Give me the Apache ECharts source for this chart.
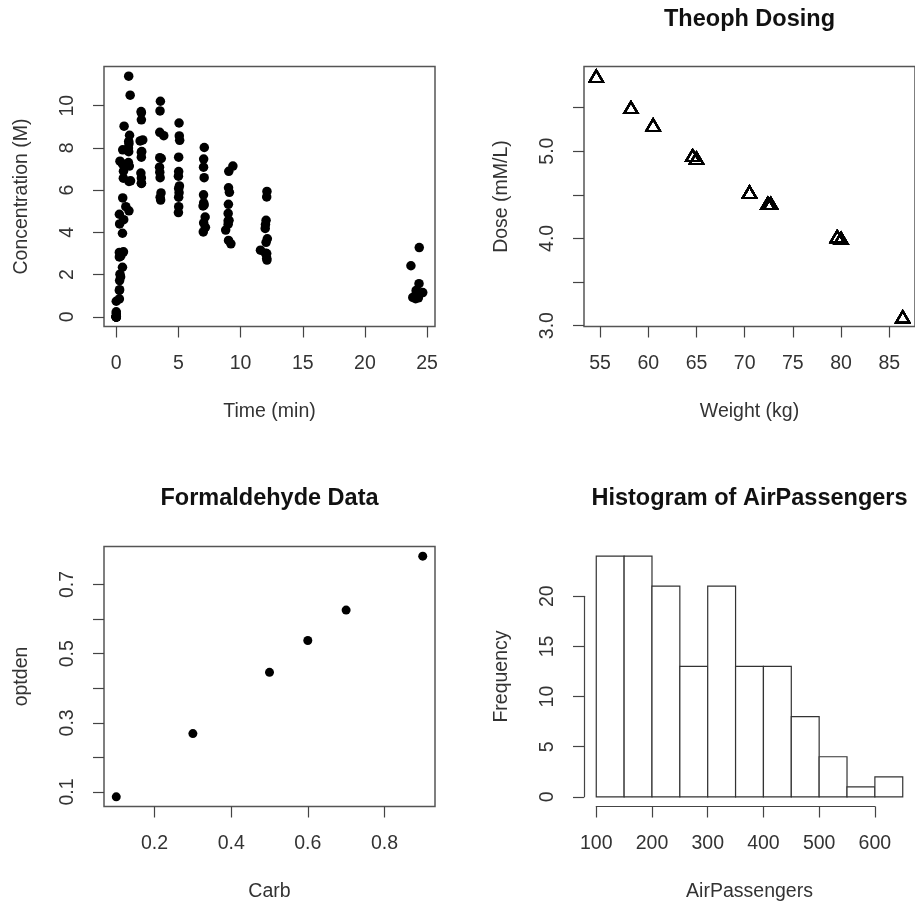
<!DOCTYPE html>
<html>
<head>
<meta charset="utf-8">
<script src="https://cdn.jsdelivr.net/npm/echarts@6/dist/echarts.min.js"></script>
<style>
  html, body { margin: 0; padding: 0; background: #fff; }
  #main { width: 915px; height: 907px; }
</style>
</head>
<body>
<div id="main"></div>
<script>
// Theoph: one entry per subject, 11 samples each
const subjWt = [79.6, 72.4, 70.5, 72.7, 54.6, 80.0, 64.6, 70.5, 86.4, 58.2, 65.0, 60.5];
const subjDose = [4.02, 4.40, 4.53, 4.40, 5.86, 4.00, 4.95, 4.53, 3.10, 5.50, 4.92, 5.30];
const subjTime = [
  [0, 0.25, 0.57, 1.12, 2.02, 3.82, 5.10, 7.03, 9.05, 12.12, 24.37],
  [0, 0.27, 0.52, 1.00, 1.92, 3.50, 5.02, 7.03, 9.00, 12.00, 24.30],
  [0, 0.27, 0.58, 1.02, 2.02, 3.62, 5.08, 7.07, 9.00, 12.15, 24.17],
  [0, 0.35, 0.60, 1.07, 2.13, 3.50, 5.02, 7.02, 9.02, 11.98, 24.65],
  [0, 0.30, 0.52, 1.00, 2.02, 3.50, 5.02, 7.02, 9.10, 12.00, 24.35],
  [0, 0.27, 0.58, 1.15, 2.03, 3.57, 5.00, 7.00, 9.22, 12.10, 23.85],
  [0, 0.25, 0.50, 1.02, 2.02, 3.48, 5.00, 6.98, 9.00, 12.05, 24.22],
  [0, 0.25, 0.52, 0.98, 2.02, 3.53, 5.05, 7.15, 9.07, 12.10, 24.12],
  [0, 0.30, 0.63, 1.05, 2.02, 3.53, 5.02, 7.17, 8.80, 11.60, 24.43],
  [0, 0.37, 0.77, 1.02, 2.05, 3.55, 5.05, 7.08, 9.38, 12.10, 23.70],
  [0, 0.25, 0.50, 0.98, 1.98, 3.60, 5.02, 7.03, 9.03, 12.12, 24.08],
  [0, 0.25, 0.50, 1.00, 2.00, 3.52, 5.07, 7.07, 9.03, 12.05, 24.15]
];
const subjConc = [
  [0.74, 2.84, 6.57, 10.50, 9.66, 8.58, 8.36, 7.47, 6.89, 5.94, 3.28],
  [0.00, 1.72, 7.91, 8.31, 8.33, 6.85, 6.08, 5.40, 4.55, 3.01, 0.90],
  [0.00, 4.40, 6.90, 8.20, 7.80, 7.50, 6.20, 5.30, 4.90, 3.70, 1.05],
  [0.00, 1.89, 4.60, 8.60, 8.38, 7.54, 6.88, 5.78, 5.33, 4.19, 1.15],
  [0.00, 2.02, 5.63, 11.40, 9.33, 8.74, 7.56, 7.09, 5.90, 4.37, 1.57],
  [0.00, 1.29, 3.08, 6.44, 6.32, 5.53, 4.94, 4.02, 3.46, 2.78, 0.92],
  [0.15, 0.85, 2.35, 5.02, 6.58, 7.09, 6.66, 5.25, 4.39, 3.53, 1.15],
  [0.00, 3.05, 3.05, 7.31, 7.56, 6.59, 5.88, 4.73, 4.57, 3.00, 1.25],
  [0.00, 7.37, 9.03, 7.14, 6.33, 5.66, 5.67, 4.24, 4.11, 3.16, 1.12],
  [0.24, 2.89, 5.22, 6.41, 7.83, 10.21, 9.18, 8.02, 7.14, 5.68, 2.42],
  [0.00, 4.86, 7.24, 8.00, 6.81, 5.87, 5.22, 4.45, 3.62, 2.69, 0.86],
  [0.00, 1.25, 3.96, 7.82, 9.72, 9.75, 8.57, 6.59, 6.11, 4.57, 1.17]
];

// Formaldehyde
const carb = [0.1, 0.3, 0.5, 0.6, 0.7, 0.9];
const optden = [0.086, 0.269, 0.446, 0.538, 0.626, 0.782];

// AirPassengers histogram
const apBreaks = [100, 150, 200, 250, 300, 350, 400, 450, 500, 550, 600, 650];
const apCounts = [24, 24, 21, 13, 21, 13, 13, 8, 4, 1, 2];

// ticks and labels
const concTicksX = [0, 5, 10, 15, 20, 25];
const concTicksY = [0, 2, 4, 6, 8, 10];
const doseTicksX = [55, 60, 65, 70, 75, 80, 85];
const doseTicksY = [3.0, 3.5, 4.0, 4.5, 5.0, 5.5];
const doseLabelsY = [3.0, 4.0, 5.0];
const formTicksX = [0.2, 0.4, 0.6, 0.8];
const formTicksY = [0.1, 0.2, 0.3, 0.4, 0.5, 0.6, 0.7];
const formLabelsY = [0.1, 0.3, 0.5, 0.7];

const FONT = 'Liberation Sans, Arial, sans-serif';
const TXT = '#333';
const FS = 19.5;
const PW = 331, PH = 260;

// R style padded range (4% each side)
function rRange(vals) {
  const lo = Math.min(...vals), hi = Math.max(...vals);
  const d = (hi - lo) * 0.04;
  return [lo - d, hi + d];
}

function boxGrid(left, top, show) {
  return {
    left: left, top: top, width: PW, height: PH,
    show: show, borderColor: '#555', borderWidth: 1.5,
    backgroundColor: 'transparent', outerBoundsMode: 'none', containLabel: false
  };
}

function rAxis(o) {
  return {
    type: 'value',
    gridIndex: o.grid,
    position: o.pos,
    offset: o.offset || 0,
    min: o.range[0], max: o.range[1],
    interval: o.interval,
    name: o.name || '',
    nameLocation: 'middle',
    nameGap: o.isY ? 72 : 75,
    nameTextStyle: { fontFamily: FONT, fontSize: FS, color: TXT },
    axisLine: o.line
      ? { show: true, onZero: false, lineStyle: { color: '#444', width: 1.2 } }
      : { show: false, onZero: false },
    axisTick: o.ticks ? {
      show: true, inside: false, length: 11,
      customValues: o.ticks === true ? undefined : o.ticks,
      lineStyle: { color: '#444', width: 1.2 }
    } : { show: false },
    axisLabel: o.labels ? {
      show: true,
      customValues: o.labels === true ? undefined : o.labels,
      margin: o.isY ? 26 : 27,
      rotate: o.isY ? 90 : 0,
      fontFamily: FONT, fontSize: FS, color: TXT,
      formatter: o.fmt || (v => String(v))
    } : { show: false },
    splitLine: { show: false }
  };
}

// data built from the arrays above
const concData = [];
subjTime.forEach((ts, i) => ts.forEach((t, j) => concData.push([t, subjConc[i][j]])));
const doseData = [];
subjWt.forEach((w, i) => subjTime[i].forEach(() => doseData.push([w, subjDose[i]])));
const formData = carb.map((c, i) => [c, optden[i]]);
const histData = apCounts.map((c, i) => [apBreaks[i], apBreaks[i + 1], c]);

const allTimes = [].concat(...subjTime), allConc = [].concat(...subjConc);
const histXRange = rRange([apBreaks[0], apBreaks[apBreaks.length - 1]]);
const histYRange = rRange([0, Math.max(...apCounts)]);

// hist axis grid spans exactly 100..600 and 0..20 inside the plot region
const HL = 584, HT = 546.5;
const hx0 = HL + (100 - histXRange[0]) / (histXRange[1] - histXRange[0]) * PW;
const hx1 = HL + (600 - histXRange[0]) / (histXRange[1] - histXRange[0]) * PW;
const hy0 = HT + PH - (0 - histYRange[0]) / (histYRange[1] - histYRange[0]) * PH;
const hy1 = HT + PH - (20 - histYRange[0]) / (histYRange[1] - histYRange[0]) * PH;

const chart = echarts.init(document.getElementById('main'), null, { renderer: 'canvas' });
chart.setOption({
  animation: false,
  backgroundColor: '#fff',
  title: [
    { text: 'Theoph Dosing', left: 749.5, top: 20 },
    { text: 'Formaldehyde Data', left: 269.5, top: 498.5 },
    { text: 'Histogram of AirPassengers', left: 749.5, top: 498.5 }
  ].map(t => Object.assign(t, {
    padding: 0, textAlign: 'center', textVerticalAlign: 'middle',
    textStyle: { fontFamily: FONT, fontSize: 23.5, fontWeight: 'bold', color: '#111' }
  })),
  grid: [
    boxGrid(104, 66.5, true),
    boxGrid(584, 66.5, true),
    boxGrid(104, 546.5, true),
    boxGrid(HL, HT, false),
    {
      left: hx0, width: hx1 - hx0, top: hy1, height: hy0 - hy1,
      show: false, outerBoundsMode: 'none', containLabel: false
    }
  ],
  xAxis: [
    rAxis({ grid: 0, pos: 'bottom', range: rRange(allTimes), ticks: concTicksX, labels: concTicksX, name: 'Time (min)' }),
    rAxis({ grid: 1, pos: 'bottom', range: rRange(subjWt), ticks: doseTicksX, labels: doseTicksX, name: 'Weight (kg)' }),
    rAxis({ grid: 2, pos: 'bottom', range: rRange(carb), ticks: formTicksX, labels: formTicksX, name: 'Carb', fmt: v => v.toFixed(1) }),
    rAxis({ grid: 3, pos: 'bottom', range: histXRange, name: 'AirPassengers' }),
    rAxis({ grid: 4, pos: 'bottom', offset: HT + PH - hy0, range: [100, 600], interval: 100, line: true, ticks: true, labels: true })
  ],
  yAxis: [
    rAxis({ grid: 0, pos: 'left', isY: true, range: rRange(allConc), ticks: concTicksY, labels: concTicksY, name: 'Concentration (M)' }),
    rAxis({ grid: 1, pos: 'left', isY: true, range: rRange(subjDose), ticks: doseTicksY, labels: doseLabelsY, name: 'Dose (mM/L)', fmt: v => v.toFixed(1) }),
    rAxis({ grid: 2, pos: 'left', isY: true, range: rRange(optden), ticks: formTicksY, labels: formLabelsY, name: 'optden', fmt: v => v.toFixed(1) }),
    rAxis({ grid: 3, pos: 'left', isY: true, range: histYRange, name: 'Frequency' }),
    rAxis({ grid: 4, pos: 'left', isY: true, offset: hx0 - HL, range: [0, 20], interval: 5, line: true, ticks: true, labels: true })
  ],
  series: [
    {
      type: 'scatter', xAxisIndex: 0, yAxisIndex: 0,
      symbol: 'circle', symbolSize: 9.5,
      itemStyle: { color: '#000', opacity: 1 },
      data: concData
    },
    {
      type: 'scatter', xAxisIndex: 1, yAxisIndex: 1,
      symbol: 'triangle', symbolSize: [13.5, 11.5],
      itemStyle: { color: 'rgba(0,0,0,0)', borderColor: '#000', borderWidth: 1.8, opacity: 1 },
      data: doseData
    },
    {
      type: 'scatter', xAxisIndex: 2, yAxisIndex: 2,
      symbol: 'circle', symbolSize: 9,
      itemStyle: { color: '#000', opacity: 1 },
      data: formData
    },
    {
      type: 'custom', xAxisIndex: 3, yAxisIndex: 3,
      encode: { x: [0, 1], y: 2 },
      clip: false,
      renderItem: function (params, api) {
        const p0 = api.coord([api.value(0), api.value(2)]);
        const p1 = api.coord([api.value(1), 0]);
        return {
          type: 'rect',
          shape: { x: p0[0], y: p0[1], width: p1[0] - p0[0], height: p1[1] - p0[1] },
          style: { fill: '#fff', stroke: '#333', lineWidth: 1.2 }
        };
      },
      data: histData
    }
  ]
});
</script>
</body>
</html>
